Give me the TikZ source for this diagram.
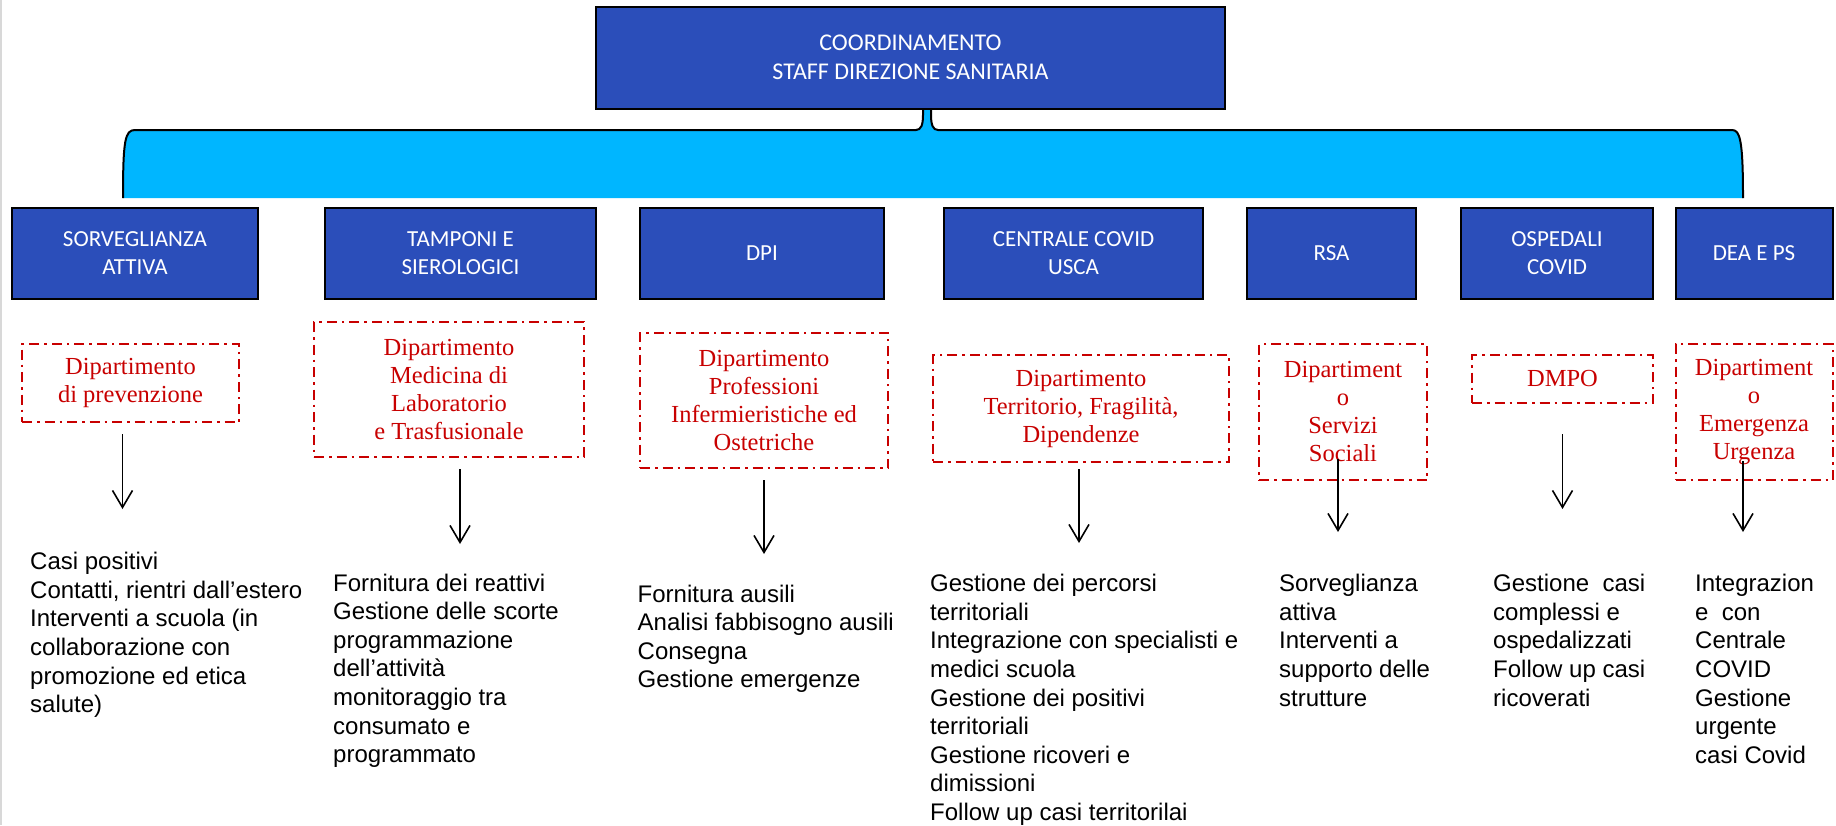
\documentclass[tikz,border=0pt]{standalone}
\usepackage{fontspec}
\setmainfont{Liberation Sans}
\newfontfamily\calib{Carlito}
\newfontfamily\deptfont{Liberation Serif}
\usepackage{tikz}
\usetikzlibrary{arrows.meta}
\definecolor{boxblue}{HTML}{2B4EBA}
\definecolor{bracecyan}{HTML}{00B6FF}
\definecolor{deptred}{HTML}{C80000}
\definecolor{edgegray}{HTML}{D8D8D8}
\tikzset{
  head/.style={rectangle, draw=black, line width=2pt, fill=boxblue, text=white,
    font=\calib\fontsize{24}{29}\selectfont, align=center, inner sep=0pt},
  area/.style={rectangle, draw=black, line width=2pt, fill=boxblue, text=white,
    font=\calib\fontsize{23}{27.5}\selectfont, align=center, inner sep=0pt,
    minimum height=91pt},
  dept/.style={rectangle, draw=deptred, line width=2pt,
    dash pattern=on 10pt off 5pt on 2.5pt off 5pt, text=deptred,
    font=\deptfont\fontsize{24.5}{28}\selectfont, align=center, inner sep=0pt},
  task/.style={anchor=north west, align=left, inner sep=0pt,
    font=\fontsize{24}{28.6}\selectfont},
  ar/.style={-{Straight Barb[length=17pt,width=20pt]}, line width=1.6pt},
}

\begin{document}
\begin{tikzpicture}[x=1pt, y=-1pt]

\useasboundingbox (0,0) rectangle (1836,825);
\fill[white] (0,0) rectangle (1836,825);
\draw[edgegray, line width=2pt] (1,0) -- (1,825);

% brace under the top box
\fill[bracecyan] (123,198) .. controls (123,140) and (125,130) .. (135,130)
  -- (916,130) .. controls (921,130) and (923,125) .. (923,115) -- (923,105)
  -- (931,105) -- (931,115) .. controls (931,125) and (933,130) .. (938,130)
  -- (1732,130) .. controls (1740,130) and (1743,140) .. (1743,198) -- cycle;
\draw[line width=2pt] (123,198) .. controls (123,140) and (125,130) .. (135,130)
  -- (916,130) .. controls (921,130) and (923,125) .. (923,115) -- (923,108);
\draw[line width=2pt] (931,108) -- (931,115) .. controls (931,125) and (933,130) .. (938,130)
  -- (1732,130) .. controls (1740,130) and (1743,140) .. (1743,198);

\node[head, minimum width=629pt, minimum height=102pt] (staff) at (910.5,57.5)
  {COORDINAMENTO\\STAFF DIREZIONE SANITARIA};

\node[area, minimum width=246pt] (sorv) at (135,253)    {SORVEGLIANZA\\ATTIVA};
\node[area, minimum width=271pt] (tamp) at (460.5,253)  {TAMPONI E\\SIEROLOGICI};
\node[area, minimum width=244pt] (dpi)  at (762,253)    {DPI};
\node[area, minimum width=259pt] (cent) at (1073.5,253) {CENTRALE COVID\\USCA};
\node[area, minimum width=169pt] (rsa)  at (1331.5,253) {RSA};
\node[area, minimum width=192pt] (osp)  at (1557,253)   {OSPEDALI\\COVID};
\node[area, minimum width=157pt] (dea)  at (1754,253)   {DEA E PS};

\node[dept, minimum width=217pt, minimum height=78pt]  (prev) at (130.5,383)  {Dipartimento\\di prevenzione};
\node[dept, minimum width=270pt, minimum height=135pt] (lab)  at (449,389.5)  {Dipartimento\\Medicina di\\Laboratorio\\e Trasfusionale};
\node[dept, minimum width=248pt, minimum height=135pt] (inf)  at (764,400.5)  {Dipartimento\\Professioni\\Infermieristiche ed\\Ostetriche};
\node[dept, minimum width=296pt, minimum height=107pt] (terr) at (1081,408.5) {Dipartimento\\Territorio, Fragilità,\\Dipendenze};
\node[dept, minimum width=168pt, minimum height=136pt] (soc)  at (1343,412)   {Dipartiment\\o\\Servizi\\Sociali};
\node[dept, minimum width=181pt, minimum height=48pt]  (dmpo) at (1562.5,379) {DMPO};
\node[dept, minimum width=157pt, minimum height=136pt] (emer) at (1754,412)   {Dipartiment\\o\\Emergenza\\Urgenza};

\node[task] (casi) at (30,552) {Casi positivi\\Contatti, rientri dall’estero\\Interventi a scuola (in\\collaborazione con\\promozione ed etica\\salute)};
\node[task] (reat) at (333,573.5) {Fornitura dei reattivi\\Gestione delle scorte\\programmazione\\dell’attività\\monitoraggio tra\\consumato e\\programmato};
\node[task] (ausi) at (637.5,584.5) {Fornitura ausili\\Analisi fabbisogno ausili\\Consegna\\Gestione emergenze};
\node[task] (perc) at (930,574) {Gestione dei percorsi\\territoriali\\Integrazione con specialisti e\\medici scuola\\Gestione dei positivi\\territoriali\\Gestione ricoveri e\\dimissioni\\Follow up casi territorilai};
\node[task] (strt) at (1279,574) {Sorveglianza\\attiva\\Interventi a\\supporto delle\\strutture};
\node[task] (comp) at (1493,574) {Gestione~~casi\\complessi e\\ospedalizzati\\Follow up casi\\ricoverati};
\node[task] (urge) at (1695,574) {Integrazion\\e~~con\\Centrale\\COVID\\Gestione\\urgente\\casi Covid};

\draw[ar] ([xshift=-8pt,yshift=-11pt]prev.south) -- ++(0,75);
\draw[ar] ([xshift=11pt,yshift=-11pt]lab.south) -- ++(0,75);
\draw[ar] ([yshift=-11pt]inf.south) -- ++(0,74);
\draw[ar] ([xshift=-2pt,yshift=-6pt]terr.south) -- ++(0,74);
\draw[ar] ([xshift=-5pt,yshift=22pt]soc.south) -- ++(0,73);
\draw[ar] ([yshift=-30pt]dmpo.south) -- ++(0,75);
\draw[ar] ([xshift=-11pt,yshift=20pt]emer.south) -- ++(0,71);

\end{tikzpicture}
\end{document}
